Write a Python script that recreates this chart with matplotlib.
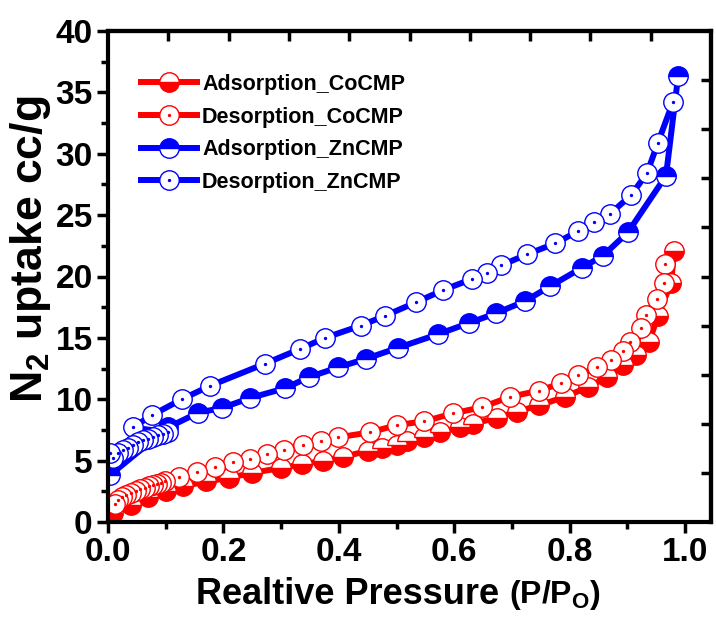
import matplotlib
matplotlib.use('Agg')
import matplotlib.pyplot as plt
from matplotlib.ticker import MultipleLocator

plt.rcParams['font.family'] = ['Liberation Sans', 'DejaVu Sans']
plt.rcParams['font.weight'] = 'bold'
plt.rcParams['mathtext.fontset'] = 'custom'
plt.rcParams['mathtext.rm'] = 'Liberation Sans:bold'
plt.rcParams['mathtext.bf'] = 'Liberation Sans:bold'
plt.rcParams['mathtext.it'] = 'Liberation Sans:bold'

# N2 isotherms
co_ads_x = [0.009, 0.04, 0.07, 0.10, 0.13, 0.17, 0.21, 0.25, 0.30, 0.336, 0.373, 0.407,
            0.451, 0.475, 0.501, 0.518, 0.548, 0.575, 0.610, 0.633, 0.674, 0.709, 0.747,
            0.792, 0.832, 0.865, 0.893, 0.915, 0.938, 0.953, 0.976, 0.981]
co_ads_y = [0.7, 1.4, 2.0, 2.5, 2.9, 3.3, 3.6, 4.0, 4.4, 4.7, 5.0, 5.3, 5.8, 6.0, 6.3,
            6.6, 6.9, 7.3, 7.7, 8.0, 8.5, 9.0, 9.5, 10.2, 11.0, 11.8, 12.8, 13.6, 14.7,
            16.8, 19.5, 22.1]

co_des_x = [0.965, 0.964, 0.951, 0.932, 0.924, 0.905, 0.893, 0.872, 0.847, 0.815, 0.785,
            0.747, 0.697, 0.648, 0.598, 0.548, 0.501, 0.454, 0.399, 0.369, 0.338, 0.305,
            0.275, 0.246, 0.217, 0.185, 0.154, 0.123, 0.099, 0.092, 0.085, 0.078, 0.071,
            0.064, 0.056, 0.048, 0.040, 0.032, 0.024, 0.017, 0.012]
co_des_y = [21.0, 19.5, 18.2, 16.9, 15.8, 14.7, 13.9, 13.2, 12.6, 11.95, 11.3, 10.7, 10.2,
            9.35, 8.85, 8.2, 7.9, 7.3, 6.9, 6.6, 6.26, 5.9, 5.5, 5.1, 4.9, 4.5, 4.1, 3.7,
            3.3, 3.2, 3.1, 3.0, 2.9, 2.8, 2.65, 2.5, 2.35, 2.2, 2.0, 1.8, 1.5]

zn_ads_x = [0.003, 0.104, 0.156, 0.198, 0.246, 0.307, 0.348, 0.399, 0.447, 0.503, 0.572,
            0.625, 0.672, 0.723, 0.766, 0.821, 0.858, 0.901, 0.967, 0.988]
zn_ads_y = [3.8, 7.7, 8.9, 9.3, 10.1, 10.9, 11.8, 12.6, 13.3, 14.2, 15.3, 16.2, 17.0,
            18.0, 19.2, 20.7, 21.7, 23.6, 28.2, 36.3]

zn_des_x = [0.979, 0.953, 0.934, 0.906, 0.870, 0.842, 0.815, 0.775, 0.726, 0.681, 0.657,
            0.631, 0.581, 0.534, 0.480, 0.438, 0.376, 0.333, 0.272, 0.177, 0.128, 0.076,
            0.043, 0.104, 0.095, 0.087, 0.078, 0.069, 0.061, 0.052, 0.043, 0.035, 0.026,
            0.017, 0.009, 0.003]
zn_des_y = [34.2, 30.9, 28.4, 26.6, 25.1, 24.4, 23.7, 22.7, 21.8, 20.9, 20.3, 19.8, 18.9,
            17.9, 16.8, 16.0, 15.0, 14.1, 12.9, 11.1, 10.0, 8.7, 7.7, 7.3, 7.2, 7.1, 6.9,
            6.8, 6.7, 6.5, 6.3, 6.0, 5.85, 5.6, 5.2, 5.6]

labels = ['Adsorption_CoCMP', 'Desorption_CoCMP', 'Adsorption_ZnCMP', 'Desorption_ZnCMP']

fig = plt.figure(figsize=(7.16, 6.23), dpi=100)
ax = fig.add_axes([108 / 716, 1 - 522 / 623, 603 / 716, 491 / 623])

LW = 4.3
MS = 14


def adsorption(x, y, color, half):
    ln, = ax.plot(x, y, '-o', color=color, lw=LW, ms=MS, mec=color, mew=1.0,
                  mfc=color, mfcalt='white', fillstyle=half)
    return ln


def desorption(x, y, color):
    ln, = ax.plot(x, y, '-o', color=color, lw=LW, ms=MS, mec=color, mew=1.0, mfc='white')
    dot, = ax.plot(x, y, ls='none', marker='o', ms=1.4, color=color)
    return (ln, dot)


h1 = adsorption(co_ads_x, co_ads_y, 'red', 'bottom')
h2 = desorption(co_des_x, co_des_y, 'red')
h3 = adsorption(zn_ads_x, zn_ads_y, 'blue', 'top')
h4 = desorption(zn_des_x, zn_des_y, 'blue')

x0, x1 = 0, 1.045
y0, y1 = 0, 40
ax.set_xlim(x0, x1)
ax.set_ylim(y0, y1)

ax.xaxis.set_major_locator(MultipleLocator(0.2))
ax.xaxis.set_minor_locator(MultipleLocator(0.1))
ax.yaxis.set_major_locator(MultipleLocator(5))
ax.yaxis.set_minor_locator(MultipleLocator(2.5))
ax.tick_params(which='major', direction='out', length=8, width=2.5, pad=3,
               top=False, right=False, labelsize=24)
ax.tick_params(which='minor', direction='out', length=5, width=2.5, top=False, right=False)
for t in ax.get_xticklabels() + ax.get_yticklabels():
    t.set_fontweight('bold')
for s in ax.spines.values():
    s.set_linewidth(3)

# opposite axes: ten equal divisions, ticks pointing in
top = ax.secondary_xaxis('top')
top.set_xticks([x0 + k * (x1 - x0) / 10 for k in range(1, 10)])
top.tick_params(direction='in', length=7, width=2.5, labeltop=False)
top.spines['top'].set_linewidth(3)
right = ax.secondary_yaxis('right')
right.set_yticks([y0 + k * (y1 - y0) / 10 for k in range(1, 10)])
right.tick_params(direction='in', length=7, width=2.5, labelright=False)
right.spines['right'].set_linewidth(3)

ax.set_ylabel(r'N$_\mathbf{2}$ uptake cc/g', fontsize=32, fontweight='bold')
ax.yaxis.set_label_coords(-0.092, 0.556)
ax.set_xlabel('Realtive Pressure ', fontsize=26, fontweight='bold')
ax.xaxis.set_label_coords(0.405, -0.112)
ax.annotate(r'(P/P$_\mathbf{O}$)', xy=(1, 0), xycoords=ax.xaxis.label,
            ha='left', va='bottom', fontsize=23, fontweight='bold')

ax.legend([h1, h2, h3, h4], labels, loc='upper left', bbox_to_anchor=(0.04, 0.93),
          frameon=False, handlelength=2.6, handletextpad=0.25, labelspacing=0.54,
          borderaxespad=0, prop={'weight': 'bold', 'size': 15.5})

fig.savefig('out.png', dpi=100)
